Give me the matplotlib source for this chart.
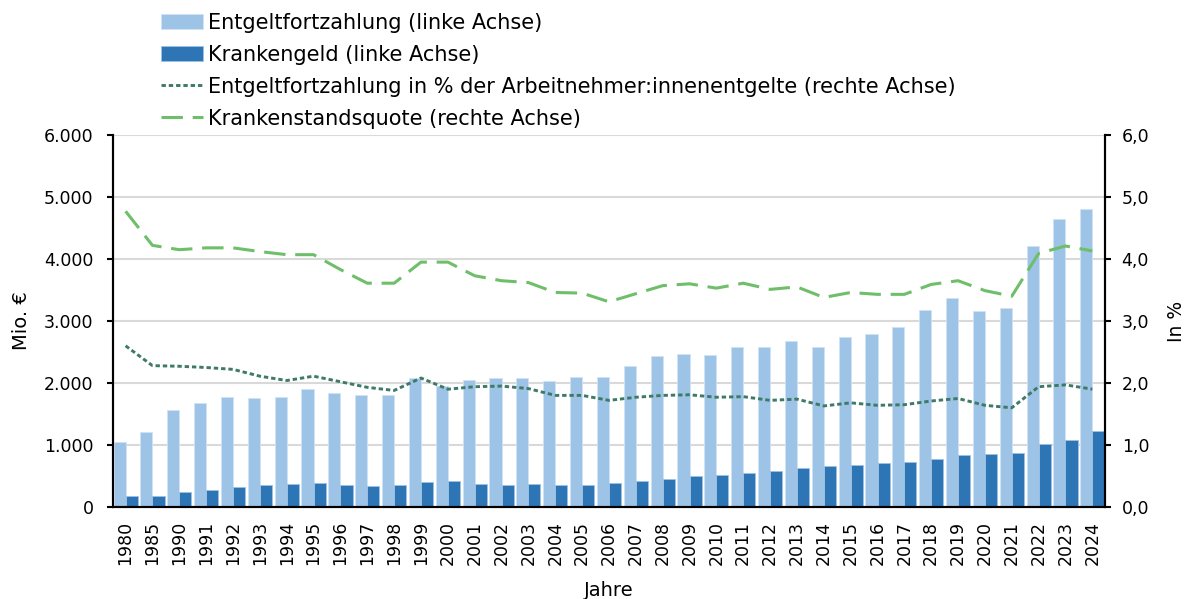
import numpy as np
import matplotlib.pyplot as plt

plt.rcParams["font.family"] = ["DejaVu Sans"]

years = ["1980", "1985"] + [str(y) for y in range(1990, 2025)]

entgelt = [1054, 1204, 1565, 1683, 1769, 1763, 1780, 1909, 1844, 1801,
           1812, 2075, 1957, 2043, 2086, 2086, 2027, 2097, 2097, 2274,
           2430, 2473, 2452, 2575, 2586, 2683, 2586, 2747, 2796, 2903,
           3172, 3366, 3167, 3215, 4204, 4640, 4812]

krankengeld = [177, 183, 237, 269, 323, 355, 376, 387, 355, 333,
               360, 409, 414, 370, 355, 366, 360, 360, 382, 419,
               446, 500, 522, 554, 575, 624, 667, 677, 702, 720,
               769, 844, 855, 871, 1011, 1075, 1226]

entgelt_pct = [2.60, 2.28, 2.27, 2.25, 2.22, 2.11, 2.04, 2.11, 2.02, 1.93,
               1.88, 2.08, 1.90, 1.94, 1.95, 1.91, 1.80, 1.80, 1.72, 1.77,
               1.80, 1.81, 1.77, 1.78, 1.72, 1.74, 1.63, 1.68, 1.64, 1.65,
               1.71, 1.75, 1.64, 1.60, 1.94, 1.97, 1.90]

krankenstand = [4.77, 4.22, 4.15, 4.18, 4.18, 4.12, 4.07, 4.07, 3.83, 3.61,
                3.61, 3.95, 3.95, 3.73, 3.65, 3.62, 3.46, 3.45, 3.31, 3.44,
                3.57, 3.60, 3.53, 3.61, 3.51, 3.55, 3.38, 3.46, 3.43, 3.43,
                3.59, 3.65, 3.49, 3.40, 4.09, 4.21, 4.13]

light_blue = "#9DC3E6"
dark_blue = "#2E75B6"
dark_green = "#3F7A68"
light_green = "#6EBE6A"

x = np.arange(len(years))
w = 0.45

fig = plt.figure(figsize=(11.88, 5.99), dpi=100)
ax = fig.add_axes([0.0951, 0.1536, 0.835, 0.621])
ax2 = ax.twinx()

b1 = ax.bar(x - w / 2, entgelt, width=w, color=light_blue, edgecolor="#cfe3f5",
            linewidth=0.6, label="Entgeltfortzahlung (linke Achse)", zorder=2)
b2 = ax.bar(x + w / 2, krankengeld, width=w, color=dark_blue, edgecolor="#9ec2e3",
            linewidth=0.6, label="Krankengeld (linke Achse)", zorder=2)

l1, = ax2.plot(x, entgelt_pct, color=dark_green, linewidth=2.1, linestyle=(0, (1.5, 1.0)),
               label="Entgeltfortzahlung in % der Arbeitnehmer:innenentgelte (rechte Achse)")
l2, = ax2.plot(x, krankenstand, color=light_green, linewidth=2.2, linestyle=(0, (7, 3.2)),
               label="Krankenstandsquote (rechte Achse)")

ax.set_xlim(-0.47, len(years) - 0.53)
ax.set_ylim(0, 6000)
ax2.set_ylim(0, 6)

ax.set_yticks(np.arange(0, 6001, 1000))
ax.set_yticklabels([f"{v:,}".replace(",", ".") for v in range(0, 6001, 1000)])
ax2.set_yticks(np.arange(0, 6.1, 1))
ax2.set_yticklabels([f"{v:.1f}".replace(".", ",") for v in np.arange(0, 6.1, 1)])

ax.set_xticks(x)
ax.set_xticklabels(years, rotation=90)
ax.tick_params(axis="x", length=0, labelsize=12.5, pad=10)
ax.tick_params(axis="y", labelsize=12.5, length=4, width=1.5, direction="out", pad=10)
ax2.tick_params(axis="y", labelsize=12.5, length=4, width=1.5, direction="out", pad=8)

ax.yaxis.grid(True, color="#d9d9d9", linewidth=1.5, zorder=0)
ax.set_axisbelow(True)

for a in (ax, ax2):
    a.spines["top"].set_visible(False)
    for s in ("left", "right", "bottom"):
        a.spines[s].set_linewidth(1.5)
        a.spines[s].set_color("black")

ax.set_ylabel("Mio. €", fontsize=14)
ax2.set_ylabel("In %", fontsize=13.5)
ax.set_xlabel("Jahre", fontsize=14)
ax.yaxis.set_label_coords(-0.0827, 0.5)
ax2.yaxis.set_label_coords(1.0625, 0.5)
ax.xaxis.set_label_coords(0.5, -0.2)

fig.legend(handles=[b1, b2, l1, l2], loc="upper left",
           bbox_to_anchor=(0.1285, 0.993), frameon=False, fontsize=15,
           handlelength=2.0, handletextpad=0.25, labelspacing=0.58,
           borderaxespad=0)

fig.savefig("out.png", dpi=100)
